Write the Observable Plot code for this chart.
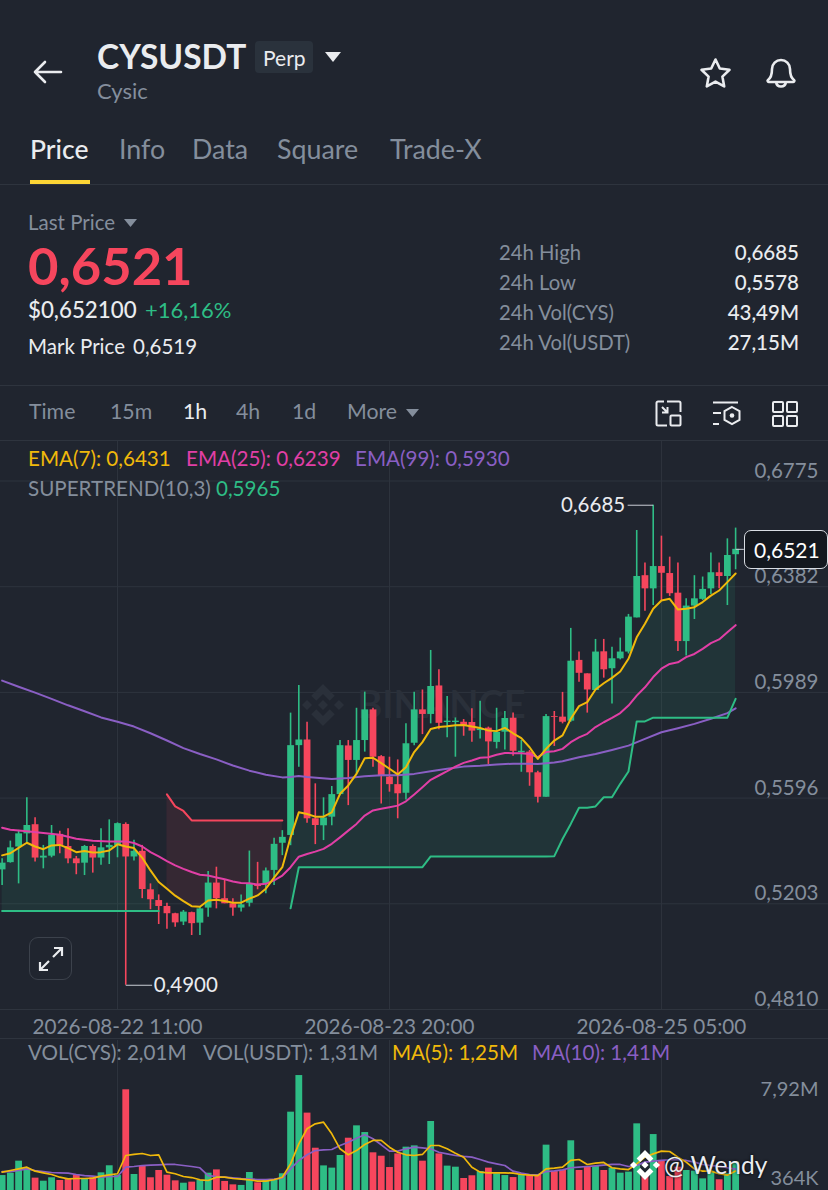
<!DOCTYPE html>
<html><head><meta charset="utf-8">
<script src="https://cdn.jsdelivr.net/npm/d3@7"></script>
<script src="https://cdn.jsdelivr.net/npm/@observablehq/plot@0.6"></script>
<style>
html,body{margin:0;padding:0;background:#20252f;}
#page{position:relative;width:828px;height:1190px;overflow:hidden;background:#20252f;font-family:Lato,"Open Sans",sans-serif;color:#848e9c;}
.t{position:absolute;transform:translateY(-50%);white-space:nowrap;line-height:1;}
.r{transform:translate(-100%,-50%);}
.hr{position:absolute;left:0;width:828px;height:1px;background:#2e343e;}
.abs{position:absolute;}
svg.plot{position:absolute;left:0;overflow:hidden;background:transparent;}
</style></head><body><div id="page"></div>
<script>
// ---------- candles (hourly, index 0 = 2026-08-22 11:00)
const firstIndex = -14;
const opens  = [0.5329,0.5356,0.5414,0.5463,0.5497,0.5373,0.5380,0.5461,0.5416,0.5370,0.5354,0.5416,0.5373,0.5411,0.5420,0.5498,0.5377,0.5398,0.5255,0.5215,0.5193,0.5166,0.5135,0.5170,0.5131,0.5187,0.5280,0.5222,0.5203,0.5187,0.5205,0.5275,0.5277,0.5327,0.5428,0.5457,0.5791,0.5812,0.5519,0.5493,0.5525,0.5609,0.5790,0.5736,0.5810,0.5924,0.5750,0.5674,0.5646,0.5614,0.5800,0.5924,0.5907,0.6013,0.5877,0.5877,0.5878,0.5877,0.5847,0.5856,0.5803,0.5841,0.5893,0.5765,0.5767,0.5690,0.5599,0.5899,0.5897,0.5882,0.6108,0.6058,0.5996,0.6140,0.6077,0.6114,0.6139,0.6266,0.6423,0.6374,0.6457,0.6431,0.6358,0.6178,0.6310,0.6335,0.6374,0.6434,0.6420,0.6501];
const highs  = [0.5370,0.5436,0.5476,0.5597,0.5523,0.5420,0.5494,0.5473,0.5482,0.5379,0.5420,0.5422,0.5482,0.5515,0.5504,0.5504,0.5439,0.5420,0.5277,0.5236,0.5205,0.5168,0.5178,0.5172,0.5191,0.5323,0.5339,0.5290,0.5222,0.5236,0.5399,0.5357,0.5336,0.5447,0.5475,0.5912,0.6015,0.5878,0.5649,0.5597,0.5639,0.5810,0.5810,0.5930,0.5990,0.5930,0.5754,0.5748,0.5738,0.5872,0.5990,0.5998,0.6145,0.6073,0.5974,0.5894,0.5888,0.5928,0.5956,0.5860,0.5930,0.5918,0.5912,0.5810,0.5773,0.5696,0.5907,0.5918,0.5989,0.6227,0.6139,0.6058,0.6186,0.6186,0.6157,0.6191,0.6279,0.6591,0.6470,0.6685,0.6570,0.6492,0.6470,0.6337,0.6423,0.6418,0.6507,0.6470,0.6560,0.6600];
const lows   = [0.5271,0.5354,0.5277,0.5426,0.5358,0.5333,0.5374,0.5389,0.5352,0.5311,0.5308,0.5317,0.5346,0.5349,0.5374,0.4900,0.5362,0.5222,0.5181,0.5126,0.5108,0.5116,0.5122,0.5085,0.5085,0.5153,0.5184,0.5203,0.5157,0.5172,0.5191,0.5255,0.5240,0.5271,0.5382,0.5419,0.5711,0.5502,0.5423,0.5438,0.5493,0.5605,0.5568,0.5686,0.5767,0.5711,0.5574,0.5618,0.5519,0.5589,0.5791,0.5832,0.5872,0.5850,0.5820,0.5748,0.5826,0.5804,0.5816,0.5721,0.5779,0.5775,0.5752,0.5692,0.5640,0.5578,0.5599,0.5788,0.5872,0.5878,0.6027,0.5912,0.5996,0.6042,0.5946,0.6110,0.6132,0.6266,0.6291,0.6312,0.6331,0.6346,0.6141,0.6124,0.6260,0.6331,0.6353,0.6374,0.6312,0.6445];
const closes = [0.5354,0.5411,0.5463,0.5494,0.5373,0.5380,0.5457,0.5420,0.5370,0.5352,0.5416,0.5373,0.5411,0.5420,0.5501,0.5377,0.5398,0.5256,0.5218,0.5193,0.5166,0.5132,0.5172,0.5129,0.5184,0.5280,0.5222,0.5203,0.5187,0.5199,0.5275,0.5267,0.5325,0.5424,0.5450,0.5791,0.5812,0.5519,0.5494,0.5522,0.5609,0.5791,0.5736,0.5810,0.5924,0.5748,0.5676,0.5646,0.5612,0.5798,0.5924,0.5907,0.6011,0.5874,0.5882,0.5882,0.5862,0.5845,0.5853,0.5805,0.5840,0.5892,0.5770,0.5770,0.5690,0.5599,0.5899,0.5896,0.5878,0.6105,0.6060,0.5998,0.6139,0.6073,0.6114,0.6139,0.6269,0.6420,0.6374,0.6457,0.6432,0.6356,0.6178,0.6310,0.6337,0.6372,0.6434,0.6420,0.6498,0.6521];

// ---------- indicators
const ema7  = [0.5383,0.5391,0.5411,0.5430,0.5416,0.5406,0.5420,0.5422,0.5410,0.5395,0.5399,0.5394,0.5395,0.5401,0.5424,0.5416,0.5410,0.5374,0.5327,0.5284,0.5259,0.5233,0.5213,0.5194,0.5192,0.5215,0.5218,0.5213,0.5207,0.5207,0.5222,0.5234,0.5259,0.5300,0.5339,0.5450,0.5543,0.5537,0.5527,0.5527,0.5543,0.5612,0.5643,0.5686,0.5744,0.5746,0.5726,0.5705,0.5684,0.5711,0.5767,0.5804,0.5853,0.5860,0.5863,0.5867,0.5868,0.5862,0.5857,0.5847,0.5845,0.5857,0.5837,0.5819,0.5785,0.5742,0.5779,0.5810,0.5829,0.5891,0.5938,0.5953,0.6000,0.6023,0.6043,0.6067,0.6114,0.6194,0.6244,0.6300,0.6331,0.6337,0.6297,0.6300,0.6306,0.6325,0.6349,0.6368,0.6399,0.6431];
const ema25Index = [-14,-13,-11,-9,-7,-5,-3,-1,1,2,3,4,5,6,7,8,9,10,11,12,13,14,15,16,17,18,19,20,21,22,23,24,25,26,27,28,29,30,31,32,33,34,35,36,37,38,39,40,41,42,43,44,45,46,47,48,49,50,51,52,53,54,55,56,57,58,59,60,61,62,63,64,65,66,67,68,69,70,71,72,73,74,75];
const ema25 = [0.5486,0.5478,0.5473,0.5466,0.5460,0.5445,0.5437,0.5435,0.5435,0.5429,0.5416,0.5395,0.5379,0.5362,0.5346,0.5333,0.5321,0.5311,0.5308,0.5301,0.5294,0.5286,0.5280,0.5279,0.5275,0.5277,0.5290,0.5308,0.5339,0.5378,0.5388,0.5397,0.5407,0.5426,0.5450,0.5475,0.5500,0.5531,0.5550,0.5556,0.5562,0.5568,0.5584,0.5609,0.5636,0.5664,0.5680,0.5696,0.5713,0.5727,0.5736,0.5746,0.5748,0.5757,0.5764,0.5763,0.5763,0.5760,0.5748,0.5767,0.5770,0.5779,0.5804,0.5822,0.5835,0.5860,0.5878,0.5894,0.5912,0.5940,0.5977,0.6008,0.6046,0.6077,0.6095,0.6101,0.6120,0.6132,0.6151,0.6172,0.6186,0.6213,0.6239];
const ema99Index = [-14,-12,-10,-8,-6,-4,-2,0,2,4,6,8,10,12,14,16,18,20,21,22,23,26,28,30,32,34,36,38,40,42,44,46,48,50,51,53,54,56,58,60,62,64,66,68,70,72,74,75];
const ema99 = [0.6033,0.6010,0.5988,0.5965,0.5941,0.5919,0.5896,0.5880,0.5862,0.5837,0.5810,0.5782,0.5760,0.5740,0.5717,0.5698,0.5683,0.5673,0.5674,0.5678,0.5674,0.5667,0.5671,0.5677,0.5681,0.5681,0.5686,0.5696,0.5705,0.5713,0.5716,0.5721,0.5724,0.5724,0.5723,0.5728,0.5733,0.5748,0.5760,0.5775,0.5791,0.5816,0.5841,0.5856,0.5872,0.5891,0.5912,0.5930];
const supertrend = [0.5176,0.5176,0.5176,0.5176,0.5176,0.5176,0.5176,0.5176,0.5176,0.5176,0.5176,0.5176,0.5176,0.5176,0.5176,0.5176,0.5176,0.5176,0.5176,0.5176,0.5610,0.5565,0.5548,0.5513,0.5513,0.5513,0.5513,0.5513,0.5513,0.5513,0.5513,0.5513,0.5513,0.5513,0.5513,0.5186,0.5339,0.5339,0.5339,0.5339,0.5339,0.5339,0.5339,0.5339,0.5339,0.5339,0.5339,0.5339,0.5339,0.5339,0.5339,0.5339,0.5379,0.5379,0.5379,0.5379,0.5379,0.5379,0.5379,0.5379,0.5379,0.5379,0.5379,0.5379,0.5379,0.5379,0.5379,0.5380,0.5444,0.5500,0.5560,0.5560,0.5565,0.5599,0.5599,0.5649,0.5695,0.5881,0.5881,0.5895,0.5895,0.5895,0.5895,0.5895,0.5895,0.5895,0.5895,0.5895,0.5895,0.5965];
const trendSegments = [{name:"up1",from:-14,to:5,color:"#2ebd85"},{name:"down",from:6,to:20,color:"#f6465d"},{name:"up2",from:21,to:75,color:"#2ebd85"}];

// ---------- volume (millions)
const volumes = [0.87,1.07,2.09,1.44,0.65,0.39,0.68,0.45,0.59,0.93,0.56,0.68,1.10,1.70,0.87,8.15,0.96,1.64,0.68,1.30,0.90,0.42,0.22,0.31,0.45,1.07,1.35,0.37,0.08,0.03,1.13,0.25,0.45,0.45,1.02,6.25,9.36,6.17,3.19,1.69,1.50,2.57,4.04,5.09,4.52,2.80,2.51,1.55,2.71,3.28,3.39,2.09,5.46,2.71,1.67,1.58,0.62,0.85,1.21,1.50,1.02,0.87,0.70,0.93,0.87,0.96,3.45,1.21,1.30,3.82,1.30,1.58,1.64,1.30,1.50,1.07,1.16,5.26,1.02,4.35,2.09,0.79,1.58,1.30,1.24,0.59,1.24,0.51,1.02,2.01];
const ma5  = [1.16,1.30,1.44,1.58,1.24,1.10,0.96,0.73,0.59,0.62,0.62,0.65,0.82,0.93,1.02,2.57,2.66,2.74,2.57,2.63,1.16,1.02,0.79,0.70,0.51,0.45,0.73,0.73,0.62,0.56,0.51,0.39,0.39,0.51,0.73,1.86,3.56,4.84,5.26,5.40,4.41,3.14,2.63,2.99,3.51,3.85,3.85,3.28,2.85,2.63,2.57,2.66,3.42,3.42,3.14,2.77,2.43,1.58,1.16,1.10,1.10,1.10,1.07,0.96,0.90,0.87,1.44,1.50,1.58,2.15,2.23,1.81,1.92,1.98,1.53,1.44,1.38,1.86,2.43,2.71,2.94,2.91,2.43,2.01,1.44,1.24,1.24,1.02,0.90,1.25];
const ma10 = [1.21,1.21,1.30,1.44,1.30,1.21,1.13,1.10,1.07,0.96,0.87,0.82,0.73,0.79,0.79,1.58,1.64,1.72,1.75,1.78,1.81,1.81,1.72,1.64,1.53,0.87,0.79,0.73,0.68,0.62,0.59,0.53,0.53,0.56,0.65,1.44,2.15,2.63,2.99,3.05,3.08,3.42,3.70,4.04,4.33,3.99,3.48,2.94,2.94,3.14,3.28,3.22,3.14,2.85,2.71,2.57,2.49,2.43,2.23,2.01,1.86,1.72,1.24,1.07,0.96,0.93,1.21,1.27,1.35,1.53,1.58,1.64,1.69,1.75,1.81,1.81,1.64,1.72,2.01,2.09,2.15,2.21,2.21,2.15,2.01,1.81,1.72,1.67,1.53,1.41];

// ---------- axes
const priceTicks = [0.6775,0.6382,0.5989,0.5596,0.5203,0.4810];
const timeTicks = [0,33,66];
const timeLabels = ["2026-08-22 11:00","2026-08-23 20:00","2026-08-25 05:00"];
const volumeTicks = [7.92,0.364];
const volumeLabels = ["7,92M","364K"];
const highPoint = {i:65,price:0.6685,label:"0,6685"};
const lowPoint  = {i:1,price:0.4900,label:"0,4900"};
const lastPrice = {i:75,price:0.6521};

// ---------- colours
const bg="#20252f", grid="#2e343e", up="#2ebd85", down="#f6465d", yellow="#f0b90b", pink="#e13fa6", purple="#8a5fc4", gray="#848e9c";
const comma = (v,d=4)=>v.toFixed(d).replace(".",",");

const rows = opens.map((o,k)=>({i:firstIndex+k,o,h:highs[k],l:lows[k],c:closes[k],v:volumes[k],e7:ema7[k],st:supertrend[k],m5:ma5[k],m10:ma10[k]}));
rows.forEach(r=>{r.col=r.c>=r.o?up:down; r.seg=trendSegments.find(s=>r.i>=s.from&&r.i<=s.to);r.segName=r.seg.name;});
const xDomain=[-14.196,86.27];
const font="Lato,'Open Sans',sans-serif";

const page=document.getElementById("page");
function T(s,x,y,size,color,opt={}){const e=document.createElement("div");e.className="t"+(opt.right?" r":"");e.textContent=s;e.style.cssText+=`left:${x}px;top:${y-1}px;font-size:${size}px;color:${color};font-weight:${opt.w||400};`+(opt.css||"");page.appendChild(e);return e;}
function HR(y){const e=document.createElement("div");e.className="hr";e.style.top=y+"px";page.appendChild(e);}
function S(x,y,w,h,inner,vb){const e=document.createElement("div");e.className="abs";e.style.cssText=`left:${x}px;top:${y}px;width:${w}px;height:${h}px;`;e.innerHTML=`<svg width="${w}" height="${h}" viewBox="${vb||`0 0 ${w} ${h}`}" style="display:block">${inner}</svg>`;page.appendChild(e);return e;}
const tri=(x,y,w,h,c)=>S(x,y,w,h,`<path d="M0 0H${w}L${w/2} ${h}Z" fill="${c}"/>`);
const logoPaths=`<path d="M50 0L78 28 66 40 50 24 34 40 22 28Z"/><path d="M50 100L78 72 66 60 50 76 34 60 22 72Z"/><path d="M12 38L24 50 12 62 0 50Z"/><path d="M88 38L100 50 88 62 76 50Z"/><path d="M50 38L62 50 50 62 38 50Z"/>`;

// ---------- header
S(33,60,30,24,`<path d="M28 12H2M12 2L2 12 12 22" fill="none" stroke="#eaecef" stroke-width="2.6" stroke-linecap="round" stroke-linejoin="round"/>`);
T("CYSUSDT",97,58,33.5,"#eaecef",{w:700});
const chip=document.createElement("div");chip.className="abs";chip.style.cssText="left:255px;top:41px;width:58px;height:32px;background:#2a323c;border-radius:4px;";page.appendChild(chip);
T("Perp",263,58,21,"#eaecef");
tri(325,52,16,10,"#eaecef");
T("Cysic",97,92,22,gray);
S(699,57,33,33,`<path d="M16.5 2.5l4.3 9 9.7 1.3-7.1 6.8 1.8 9.8-8.7-4.8-8.7 4.8 1.8-9.8-7.1-6.8 9.7-1.3z" fill="none" stroke="#eaecef" stroke-width="2.6" stroke-linejoin="round"/>`);
S(765,56,32,34,`<path d="M3 24c3-2 4-5 4-11a9 9 0 0 1 18 0c0 6 1 9 4 11 1 1 0 2-1 2H4c-1 0-2-1-1-2zM11 26c1 6 9 6 10 0" fill="none" stroke="#eaecef" stroke-width="2.6" stroke-linejoin="round"/>`);
T("Price",30,150,26.5,"#eaecef",{w:500});
[["Info",119],["Data",192],["Square",277],["Trade-X",390]].forEach(([s,x])=>T(s,x,150,26.8,gray));
const ul=document.createElement("div");ul.className="abs";ul.style.cssText=`left:30px;top:180px;width:60px;height:4px;background:#fcd535;`;page.appendChild(ul);
HR(184);
T("Last Price",28,223,20.5,gray);
tri(124,219,13,8,gray);
T("0,6521",28,266,52.5,down,{w:700});
T("$0,652100",28,311,22.3,"#eaecef",{w:500});
T("+16,16%",145,311,22,up);
T("Mark Price",28,347,20.5,"#eaecef");
T("0,6519",133,347,20.5,"#eaecef");
[["24h High","0,6685",253],["24h Low","0,5578",283],["24h Vol(CYS)","43,49M",313],["24h Vol(USDT)","27,15M",343]].forEach(([a,b,y])=>{T(a,499,y,20.3,gray);T(b,799,y,20.5,"#eaecef",{right:true,w:500});});
HR(385);
[["Time",29,gray],["15m",110,gray],["1h",183,"#eaecef"],["4h",236,gray],["1d",292,gray],["More",347,gray]].forEach(([s,x,c])=>T(s,x,413,21.3,c));
tri(406,409,13,8,gray);
S(655,400,27,27,`<path d="M9 1.5H3a1.5 1.5 0 0 0-1.5 1.5v21a1.5 1.5 0 0 0 1.5 1.5h9M12 1.5h12a1.5 1.5 0 0 1 1.5 1.5v9" fill="none" stroke="#eaecef" stroke-width="2"/><rect x="15.5" y="15.5" width="10" height="10" rx="1" fill="none" stroke="#eaecef" stroke-width="2"/><path d="M7 7l5.5 5.5M12.5 7v5.5H7" fill="none" stroke="#eaecef" stroke-width="2"/>`);
S(712,401,29,26,`<path d="M1 1.5H26M1 12H9M1 23H7" stroke="#eaecef" stroke-width="2" fill="none"/><path d="M20 6l7.5 4.2v8.6L20 23l-7.5-4.2v-8.6z" fill="none" stroke="#eaecef" stroke-width="2"/><circle cx="20" cy="14.5" r="2.3" fill="#eaecef"/>`);
S(772,401,26,26,`<rect x="1" y="1" width="10" height="10" rx="1" fill="none" stroke="#eaecef" stroke-width="2"/><rect x="15" y="1" width="10" height="10" rx="1" fill="none" stroke="#eaecef" stroke-width="2"/><rect x="1" y="15" width="10" height="10" rx="1" fill="none" stroke="#eaecef" stroke-width="2"/><rect x="15" y="15" width="10" height="10" rx="1" fill="none" stroke="#eaecef" stroke-width="2"/>`);
HR(440);

// ---------- price panel
const trendRows=rows;
const price=Plot.plot({
  width:828,height:597,marginTop:0,marginRight:0,marginBottom:29,marginLeft:0,
  style:{background:"transparent",fontFamily:font,overflow:"hidden"},
  x:{type:"linear",domain:xDomain,range:[0,828],axis:null},
  y:{type:"linear",domain:[0.4702,0.6922],range:[597,0],axis:null},
  marks:[
    Plot.ruleY(priceTicks,{stroke:grid,strokeWidth:1}),
    Plot.ruleX(timeTicks,{stroke:grid,strokeWidth:1}),
    Plot.text(["BINANCE"],{x:()=>39.3,y:()=>0.5940,text:d=>d,fontSize:38,fontWeight:700,fill:"#2a303a",letterSpacing:"1px",textAnchor:"middle"}),
    Plot.areaY(trendRows,{x:"i",y1:"st",y2:"e7",z:"segName",fill:d=>d.seg.color,fillOpacity:0.1,curve:"linear"}),
    Plot.ruleX(rows,{x:"i",y1:"l",y2:"h",stroke:"col",strokeWidth:1.6}),
    Plot.ruleX(rows,{x:"i",y1:"o",y2:"c",stroke:"col",strokeWidth:6.8}),
    Plot.line(ema99.map((p,k)=>({i:ema99Index[k],p})),{x:"i",y:"p",stroke:purple,strokeWidth:2}),
    Plot.line(ema25.map((p,k)=>({i:ema25Index[k],p})),{x:"i",y:"p",stroke:pink,strokeWidth:2}),
    Plot.line(rows,{x:"i",y:"e7",stroke:yellow,strokeWidth:2}),
    Plot.line(rows,{x:"i",y:"st",z:"segName",stroke:d=>d.seg.color,strokeWidth:2}),
    Plot.link([highPoint],{x1:d=>d.i-3.1,x2:d=>d.i,y1:"price",y2:"price",stroke:"#c9ced6",strokeWidth:1}),
    Plot.link([lowPoint],{x1:d=>d.i,x2:d=>d.i+3.2,y1:"price",y2:"price",stroke:"#c9ced6",strokeWidth:1}),
    Plot.text([highPoint],{x:d=>d.i-3.4,y:"price",text:"label",textAnchor:"end",fontSize:20.5,fill:"#eaecef"}),
    Plot.text([lowPoint],{x:d=>d.i+3.4,y:"price",text:"label",textAnchor:"start",fontSize:20.5,fill:"#eaecef"}),
    Plot.link([lastPrice],{x1:"i",x2:d=>d.i+1,y1:"price",y2:"price",stroke:"#c9ced6",strokeWidth:1}),
    Plot.axisY(priceTicks,{anchor:"right",tickSize:0,tickPadding:0,textAnchor:"end",dx:-10,dy:-10,fontSize:20.5,fill:gray,label:null,tickFormat:v=>comma(v)}),
    Plot.axisX(timeTicks,{anchor:"bottom",tickSize:0,tickPadding:10,fontSize:20.7,fill:gray,label:null,tickFormat:v=>timeLabels[timeTicks.indexOf(v)]})
  ]
});
price.style.cssText+="position:absolute;left:0;top:441px;";
page.appendChild(price);
S(323-21,705-21,42,42,`<g fill="#2a303a">${logoPaths}</g>`,"0 0 100 100");
HR(1009);HR(1038);

T("EMA(7): 0,6431",28,459,20.6,yellow);
T("EMA(25): 0,6239",186,459,20.6,pink);
T("EMA(99): 0,5930",355,459,20.6,purple);
T("SUPERTREND(10,3)",28,489,20.6,gray);
T("0,5965",216,489,20.6,up);

const tag=document.createElement("div");tag.className="abs";tag.style.cssText="left:744px;top:530px;width:82px;height:37px;border:1px solid #d8dce2;border-radius:7px;background:#14181f;";page.appendChild(tag);
T("0,6521",754,550,21,"#ffffff");

const ex=document.createElement("div");ex.className="abs";ex.style.cssText="left:29px;top:937px;width:41px;height:41px;border:1.5px solid #3c424c;border-radius:9px;";page.appendChild(ex);
S(37,945,28,28,`<path d="M3 25L12 16M25 3L16 12M3 17V25H11M25 11V3H17" fill="none" stroke="#eaecef" stroke-width="2.2"/>`);

// ---------- volume panel
const vol=Plot.plot({
  width:828,height:150,marginTop:0,marginRight:0,marginBottom:0,marginLeft:0,
  style:{background:"transparent",fontFamily:font,overflow:"hidden"},
  x:{type:"linear",domain:xDomain,range:[0,828],axis:null},
  y:{type:"linear",domain:[-0.40,12.335],range:[150,0],axis:null},
  marks:[
    Plot.ruleX(timeTicks,{stroke:grid,strokeWidth:1}),
    Plot.ruleX(rows,{x:"i",y1:()=>-0.40,y2:"v",stroke:"col",strokeWidth:6.8}),
    Plot.line(rows,{x:"i",y:"m10",stroke:purple,strokeWidth:1.7}),
    Plot.line(rows,{x:"i",y:"m5",stroke:yellow,strokeWidth:1.7}),
    Plot.axisY(volumeTicks,{anchor:"right",tickSize:0,tickPadding:0,textAnchor:"end",dx:-10,dy:-3,fontSize:20,fill:gray,label:null,tickFormat:v=>volumeLabels[volumeTicks.indexOf(v)]})
  ]
});
vol.style.cssText+="position:absolute;left:0;top:1040px;";
page.appendChild(vol);

T("VOL(CYS): 2,01M",28,1053,20.6,gray);
T("VOL(USDT): 1,31M",203,1053,20.6,gray);
T("MA(5): 1,25M",392,1053,20.6,yellow);
T("MA(10): 1,41M",532,1053,20.6,purple);
S(630,1150,30,30,`<g fill="#ffffff">${logoPaths}</g>`,"0 0 100 100");
T("@ Wendy",664,1166,24.5,"#eaecef",{css:"text-shadow:0 0 3px #000;"});
</script></body></html>
